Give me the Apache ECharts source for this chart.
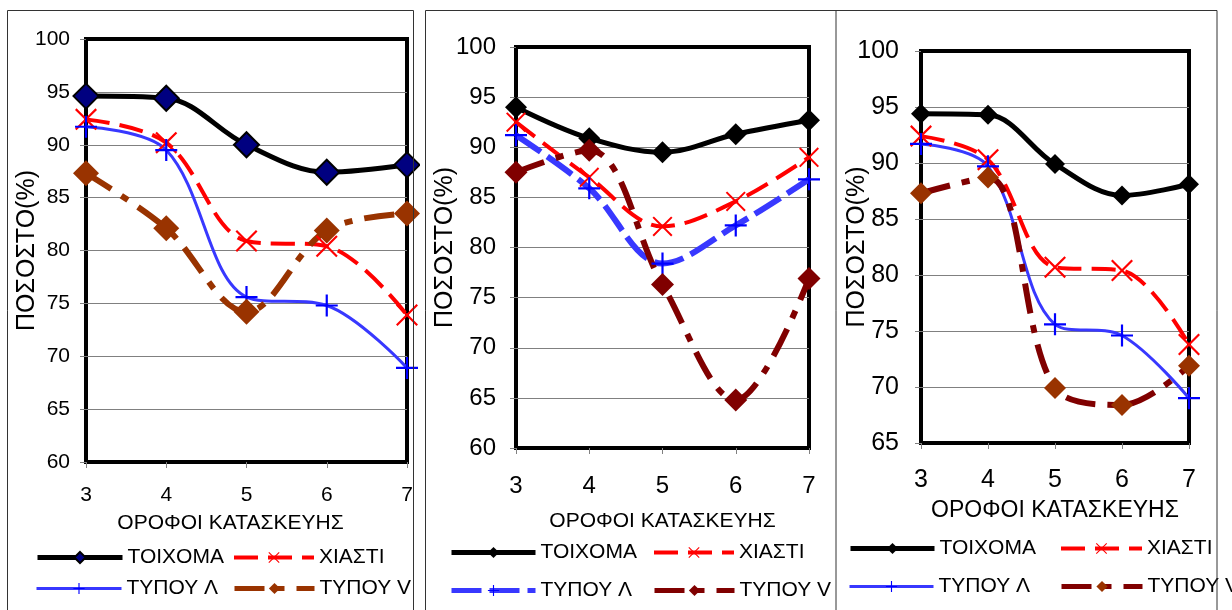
<!DOCTYPE html>
<html><head><meta charset="utf-8">
<script src="https://cdn.jsdelivr.net/npm/echarts@6/dist/echarts.min.js"></script>
<style>
html,body{margin:0;padding:0;background:#fff;width:1232px;height:610px;overflow:hidden}
.c{position:absolute;top:0;height:610px}
</style></head>
<body>
<div id="c1" class="c" style="left:0;width:420px"></div>
<div id="c2" class="c" style="left:420px;width:417px"></div>
<div id="c3" class="c" style="left:836px;width:396px"></div>
<script>
// ---- data ----
const floors = ['3', '4', '5', '6', '7'];
const seriesNames = ['ΤΟΙΧΟΜΑ', 'ΧΙΑΣΤΙ', 'ΤΥΠΟΥ Λ', 'ΤΥΠΟΥ V'];
const yTitle = 'ΠΟΣΟΣΤΟ(%)';
const xTitle = 'ΟΡΟΦΟΙ ΚΑΤΑΣΚΕΥΗΣ';

// Panel 1
const p1Wall   = [94.6, 94.4, 90.0, 87.4, 88.1];
const p1Cross  = [92.4, 90.2, 80.9, 80.4, 73.9];
const p1Lambda = [91.7, 89.5, 75.6, 74.8, 68.9];
const p1V      = [87.3, 82.1, 74.2, 81.9, 83.5];
// Panel 2
const p2Wall   = [94.0, 90.9, 89.5, 91.3, 92.7];
const p2Cross  = [92.5, 87.0, 82.1, 84.6, 89.0];
const p2Lambda = [91.2, 85.9, 78.4, 82.2, 86.8];
const p2V      = [87.5, 89.7, 76.3, 64.8, 76.9];
// Panel 3
const p3Wall   = [94.4, 94.3, 89.9, 87.1, 88.1];
const p3Cross  = [92.4, 90.3, 80.7, 80.4, 73.8];
const p3Lambda = [91.7, 89.7, 75.6, 74.6, 69.0];
const p3V      = [87.3, 88.7, 69.9, 68.4, 71.9];

// ---- styling ----
const FONT = '"Liberation Sans", Arial, sans-serif';
const X_SYM = 'path://M0,0.7L0.7,0L5,4.3L9.3,0L10,0.7L5.7,5L10,9.3L9.3,10L5,5.7L0.7,10L0,9.3L4.3,5Z';
const PLUS_SYM = 'path://M4.5,0H5.5V4.5H10V5.5H5.5V10H4.5V5.5H0V4.5H4.5Z';

function line(name, data, o) {
  return {
    type: 'line', name: name, data: data, smooth: 0.35, showAllSymbol: true,
    symbol: o.symbol, symbolSize: o.size, clip: false,
    lineStyle: { color: o.color, width: o.width, type: o.dash || 'solid' },
    itemStyle: { color: o.fill || o.color, borderColor: o.border || o.fill || o.color, borderWidth: o.bw || 0 },
    emphasis: { disabled: true }
  };
}

function legendItem(name, left, top, width, lw) {
  return {
    data: [name], left: left, top: top, itemWidth: width, itemHeight: 14, padding: 0,
    selectedMode: false, lineStyle: { width: lw },
    textStyle: { fontSize: 21, color: '#000', fontFamily: FONT }
  };
}

function makeOption(c) {
  return {
    animation: false,
    textStyle: { fontFamily: FONT },
    graphic: [{
      type: 'rect', silent: true, z: 100,
      shape: c.border,
      style: { fill: null, stroke: '#333', lineWidth: 1 }
    }],
    grid: {
      left: c.grid[0], top: c.grid[1], width: c.grid[2], height: c.grid[3],
      show: true, borderColor: '#000', borderWidth: 4, backgroundColor: 'transparent',
      containLabel: false, outerBoundsMode: 'none'
    },
    xAxis: {
      type: 'category', data: floors, boundaryGap: false,
      name: xTitle, nameLocation: 'middle', nameGap: c.xNameGap, nameMoveOverlap: false,
      nameTextStyle: { fontSize: c.xNameSize, color: '#000', fontFamily: FONT, padding: c.xNamePad },
      axisLine: { show: false },
      axisTick: { show: true, length: 6, lineStyle: { color: '#808080' } },
      axisLabel: { fontSize: c.tickSize, color: '#000', margin: c.xMargin, fontFamily: FONT },
      splitLine: { show: false }
    },
    yAxis: {
      type: 'value', min: c.yMin, max: 100, interval: 5,
      name: yTitle, nameLocation: 'middle', nameGap: c.yNameGap, nameRotate: 90, nameMoveOverlap: false,
      nameTextStyle: { fontSize: 25, color: '#000', fontFamily: FONT },
      axisLine: { show: false },
      axisTick: { show: true, length: 6, lineStyle: { color: '#808080' } },
      axisLabel: { fontSize: c.tickSize, color: '#000', margin: c.yMargin, fontFamily: FONT },
      splitLine: { show: true, showMinLine: false, showMaxLine: false, lineStyle: { color: '#808080', width: 1 } }
    },
    legend: c.legend,
    series: c.series
  };
}

const opt1 = makeOption({
  border: { x: 7.5, y: 10.5, width: 406, height: 620 },
  grid: [86, 39, 321, 423], yMin: 60, tickSize: 21, xMargin: 23, yMargin: 16,
  xNameGap: 51, xNameSize: 21, xNamePad: [0, 32, 0, 0], yNameGap: 46,
  legend: [
    legendItem(seriesNames[0], 35, 547, 85, 5),
    legendItem(seriesNames[1], 232, 547, 80, 4),
    legendItem(seriesNames[2], 35, 578, 85, 3),
    legendItem(seriesNames[3], 232, 578, 80, 5)
  ],
  series: [
    line(seriesNames[0], p1Wall, { symbol: 'diamond', size: 25, color: '#000', fill: '#000080', border: '#000', bw: 2, width: 5 }),
    line(seriesNames[1], p1Cross, { symbol: X_SYM, size: 22, color: '#ff0000', width: 4, dash: [24, 10] }),
    line(seriesNames[2], p1Lambda, { symbol: PLUS_SYM, size: 22, color: '#3838ff', fill: '#0000ff', width: 3 }),
    line(seriesNames[3], p1V, { symbol: 'diamond', size: 26, color: '#993300', width: 6, dash: [30, 12, 8, 12] })
  ]
});

const opt2 = makeOption({
  border: { x: 5.5, y: 10.5, width: 410.5, height: 620 },
  grid: [96, 47, 293, 401], yMin: 60, tickSize: 24, xMargin: 26, yMargin: 20,
  xNameGap: 63, xNameSize: 21, xNamePad: [0, 0, 0, 0], yNameGap: 58,
  legend: [
    legendItem(seriesNames[0], 29, 542, 84, 5),
    legendItem(seriesNames[1], 232, 542, 80, 4),
    legendItem(seriesNames[2], 29, 580, 84, 5),
    legendItem(seriesNames[3], 232, 580, 80, 5)
  ],
  series: [
    line(seriesNames[0], p2Wall, { symbol: 'diamond', size: 22, color: '#000', width: 5 }),
    line(seriesNames[1], p2Cross, { symbol: X_SYM, size: 20, color: '#ff0000', width: 4, dash: [24, 10] }),
    line(seriesNames[2], p2Lambda, { symbol: PLUS_SYM, size: 22, color: '#3838ff', fill: '#0000ff', width: 6, dash: [30, 8] }),
    line(seriesNames[3], p2V, { symbol: 'diamond', size: 23, color: '#800000', width: 6, dash: [30, 12, 8, 12] })
  ]
});

const opt3 = makeOption({
  border: { x: -5, y: 10.5, width: 386, height: 620 },
  grid: [85, 51, 268, 392], yMin: 65, tickSize: 25, xMargin: 25, yMargin: 22,
  xNameGap: 56, xNameSize: 23, xNamePad: [0, 0, 0, 0], yNameGap: 51,
  legend: [
    legendItem(seriesNames[0], 12, 538, 84, 5),
    legendItem(seriesNames[1], 223, 538, 81, 4),
    legendItem(seriesNames[2], 12, 576, 84, 3),
    legendItem(seriesNames[3], 223, 576, 81, 5)
  ],
  series: [
    line(seriesNames[0], p3Wall, { symbol: 'diamond', size: 20, color: '#000', width: 5 }),
    line(seriesNames[1], p3Cross, { symbol: X_SYM, size: 22, color: '#ff0000', width: 4, dash: [24, 10] }),
    line(seriesNames[2], p3Lambda, { symbol: PLUS_SYM, size: 22, color: '#3838ff', fill: '#0000ff', width: 3 }),
    line(seriesNames[3], p3V, { symbol: 'diamond', size: 22, color: '#800000', fill: '#993300', width: 6, dash: [30, 12, 8, 12] })
  ]
});

echarts.init(document.getElementById('c1'), null, { renderer: 'canvas' }).setOption(opt1);
echarts.init(document.getElementById('c2'), null, { renderer: 'canvas' }).setOption(opt2);
echarts.init(document.getElementById('c3'), null, { renderer: 'canvas' }).setOption(opt3);
</script>
</body></html>
